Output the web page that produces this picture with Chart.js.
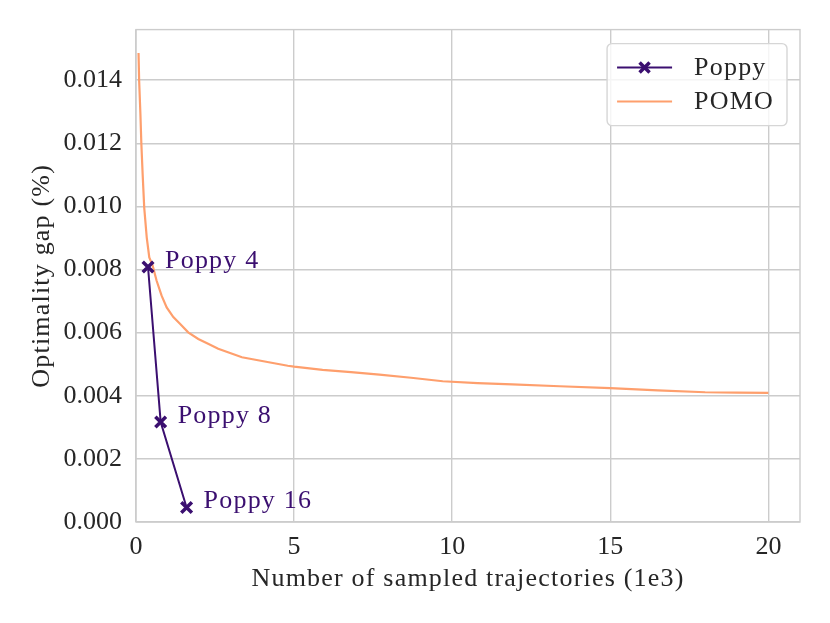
<!DOCTYPE html>
<html>
<head>
<meta charset="utf-8">
<script src="https://cdn.jsdelivr.net/npm/chart.js@4/dist/chart.umd.min.js"></script>
<style>
  html, body { margin: 0; padding: 0; background: #fff; }
  #wrap { width: 830px; height: 623px; }
</style>
</head>
<body>
<div id="wrap"><canvas id="gapChart" width="830" height="623"></canvas></div>
<script>
// Poppy: one point per population size
const poppyX = [0.38, 0.78, 1.6];
const poppyY = [0.00808, 0.00317, 0.00046];
const poppyNames = ['Poppy 4', 'Poppy 8', 'Poppy 16'];

// POMO: gap vs number of sampled trajectories (1e3)
const pomoX = [0.08, 0.1, 0.14, 0.17, 0.21, 0.26, 0.34, 0.42, 0.52, 0.65, 0.81, 0.97, 1.18, 1.39, 1.65, 1.97,
               2.28, 2.6, 3.35, 4.2, 4.8, 5.0, 5.9, 6.8, 7.7, 8.7, 9.7, 10.8, 11.9, 13.4, 15.0, 16.5, 18.0, 19.0, 20.0];
const pomoY = [0.01486, 0.01397, 0.01291, 0.01197, 0.01102, 0.00996, 0.00901, 0.00838, 0.00815, 0.00765, 0.00717,
               0.0068, 0.00649, 0.00628, 0.00601, 0.0058, 0.00565, 0.00549, 0.00522, 0.00506, 0.00495, 0.00492,
               0.00482, 0.00475, 0.00467, 0.00457, 0.00446, 0.0044, 0.00436, 0.0043, 0.00424, 0.00417, 0.00411,
               0.0041, 0.00409];

const xTicks = [0, 5, 10, 15, 20];
const yTicks = [0, 0.002, 0.004, 0.006, 0.008, 0.010, 0.012, 0.014];
const xTitle = 'Number of sampled trajectories (1e3)';
const yTitle = 'Optimality gap (%)';

const FONT = '"Liberation Serif", "DejaVu Serif", serif';
const POPPY = '#3b0f70';
const POMO = '#fe9f6d';
const GRID = '#cccccc';
const TEXT = '#262626';
const SPACING = '1.2px'; // the original serif runs wider than Liberation

// frame round the plot area (top and right spines too)
const frame = {
    id: 'frame',
    beforeDatasetsDraw(chart) {
        const a = chart.chartArea, c = chart.ctx;
        c.save();
        c.strokeStyle = GRID;
        c.lineWidth = 1.4;
        c.strokeRect(a.left, a.top, a.right - a.left, a.bottom - a.top);
        c.restore();
    }
};

// axis titles, drawn here so they can get letter spacing
const axisTitles = {
    id: 'axisTitles',
    afterDraw(chart) {
        const a = chart.chartArea, c = chart.ctx;
        c.save();
        c.font = '26px ' + FONT;
        c.letterSpacing = SPACING;
        c.fillStyle = TEXT;
        c.textAlign = 'center';
        c.textBaseline = 'middle';
        c.fillText(xTitle, (a.left + a.right) / 2, a.bottom + 57);
        c.translate(a.left - 94, (a.top + a.bottom) / 2);
        c.rotate(-Math.PI / 2);
        c.fillText(yTitle, 0, 0);
        c.restore();
    }
};

// "Poppy N" labels next to each marker
const pointNames = {
    id: 'pointNames',
    afterDatasetsDraw(chart) {
        const meta = chart.getDatasetMeta(0);
        const c = chart.ctx;
        c.save();
        c.font = '26px ' + FONT;
        c.letterSpacing = SPACING;
        c.fillStyle = POPPY;
        c.textBaseline = 'alphabetic';
        meta.data.forEach((pt, i) => {
            c.fillText(poppyNames[i], pt.x + 17, pt.y + 1);
        });
        c.restore();
    }
};

// matplotlib-style legend inside the upper right corner
const boxLegend = {
    id: 'boxLegend',
    afterDraw(chart) {
        const a = chart.chartArea, c = chart.ctx;
        const sets = chart.data.datasets;
        c.save();
        c.font = '26px ' + FONT;
        c.letterSpacing = SPACING;
        const textW = Math.max(...sets.map(d => c.measureText(d.label).width));
        const w = 87 + textW + 13, h = 82;
        const x = a.right - 13 - w, y = a.top + 14;
        c.beginPath();
        c.roundRect(x, y, w, h, 5);
        c.fillStyle = 'rgba(255,255,255,0.8)';
        c.fill();
        c.strokeStyle = '#d6d6d6';
        c.lineWidth = 1.4;
        c.stroke();
        sets.forEach((d, i) => {
            const ry = y + 24 + i * 34;
            c.strokeStyle = d.borderColor;
            c.lineWidth = 2;
            c.beginPath();
            c.moveTo(x + 10, ry);
            c.lineTo(x + 65, ry);
            c.stroke();
            if (d.pointStyle === 'crossRot') {
                const cx = x + 37.5, r = 5;
                c.lineWidth = 3.5;
                c.beginPath();
                c.moveTo(cx - r, ry - r); c.lineTo(cx + r, ry + r);
                c.moveTo(cx - r, ry + r); c.lineTo(cx + r, ry - r);
                c.stroke();
            }
            c.fillStyle = TEXT;
            c.textBaseline = 'middle';
            c.fillText(d.label, x + 87, ry + 1);
        });
        c.restore();
    }
};

const ctx = document.getElementById('gapChart').getContext('2d');
new Chart(ctx, {
    type: 'line',
    data: {
        datasets: [{
            label: 'Poppy',
            data: poppyX.map((x, i) => ({ x: x, y: poppyY[i] })),
            borderColor: POPPY,
            backgroundColor: POPPY,
            borderWidth: 2,
            pointStyle: 'crossRot',
            pointRadius: 7.5,
            pointBorderWidth: 3.5,
            tension: 0
        }, {
            label: 'POMO',
            data: pomoX.map((x, i) => ({ x: x, y: pomoY[i] })),
            borderColor: POMO,
            backgroundColor: POMO,
            borderWidth: 2.2,
            pointRadius: 0,
            tension: 0
        }]
    },
    options: {
        responsive: false,
        animation: false,
        layout: { padding: { top: 29, right: 30, left: 0, bottom: 0 } },
        plugins: {
            legend: { display: false },
            tooltip: { enabled: false }
        },
        scales: {
            x: {
                type: 'linear',
                min: 0,
                max: 21,
                afterBuildTicks: s => { s.ticks = xTicks.map(v => ({ value: v })); },
                afterFit: s => { s.height = 101; },
                grid: { color: GRID, lineWidth: 1.4, drawTicks: false },
                border: { display: false },
                ticks: {
                    padding: 10,
                    color: TEXT,
                    font: { family: FONT, size: 26 },
                    maxRotation: 0,
                    callback: v => String(v)
                }
            },
            y: {
                min: 0,
                max: 0.0156,
                afterBuildTicks: s => { s.ticks = yTicks.map(v => ({ value: v })); },
                afterFit: s => { s.width = 136; },
                grid: { color: GRID, lineWidth: 1.4, drawTicks: false },
                border: { display: false },
                ticks: {
                    padding: 14,
                    color: TEXT,
                    font: { family: FONT, size: 26 },
                    callback: v => v.toFixed(3)
                }
            }
        }
    },
    plugins: [frame, pointNames, axisTitles, boxLegend]
});
</script>
</body>
</html>
